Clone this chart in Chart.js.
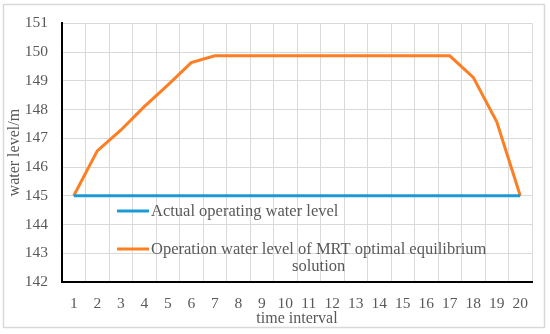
<!DOCTYPE html>
<html>
<head>
<meta charset="utf-8">
<script src="https://cdn.jsdelivr.net/npm/chart.js@4/dist/chart.umd.min.js"></script>
<style>
  html, body { margin: 0; padding: 0; background: #fff; }
  #wrap { width: 550px; height: 334px; }
</style>
</head>
<body>
<div id="wrap"><canvas id="lineChart" width="550" height="334"></canvas></div>
<script>
// time intervals 1..20
const intervals = ['1','2','3','4','5','6','7','8','9','10','11','12','13','14','15','16','17','18','19','20'];
const actualLevel = [145,145,145,145,145,145,145,145,145,145,145,145,145,145,145,145,145,145,145,145];
const mrtLevel = [145,146.56,147.28,148.1,148.85,149.63,149.87,149.87,149.87,149.87,149.87,149.87,149.87,149.87,149.87,149.87,149.87,149.12,147.57,145];
const seriesNames = ['Actual operating water level', 'Operation water level of MRT optimal equilibrium solution'];
const yTicks = { min: 142, max: 151, step: 1 };

const textGray = '#595959';
const serif = "'Liberation Serif', 'DejaVu Serif', serif";

// legend sits inside the plot, second label wraps
const insideLegend = {
    id: 'insideLegend',
    afterDraw(chart) {
        const ctx = chart.ctx;
        const rows = [
            { y: 211, lines: ['Actual operating water level'] },
            { y: 249, lines: ['Operation water level of MRT optimal equilibrium', 'solution'] },
        ];
        ctx.save();
        ctx.font = '16.5px ' + serif;
        ctx.fillStyle = textGray;
        ctx.textBaseline = 'middle';
        rows.forEach((row, i) => {
            const ds = chart.data.datasets[i];
            ctx.strokeStyle = ds.borderColor;
            ctx.lineWidth = 3;
            ctx.beginPath();
            ctx.moveTo(117, row.y);
            ctx.lineTo(149, row.y);
            ctx.stroke();
            const w = Math.max(...row.lines.map(l => ctx.measureText(l).width));
            row.lines.forEach((l, j) => {
                const lw = ctx.measureText(l).width;
                ctx.fillText(l, 151 + (w - lw) / 2, row.y + 1 + j * 17);
            });
        });
        ctx.restore();
    }
};

// outer frame + white background
const frame = {
    id: 'frame',
    beforeDraw(chart) {
        const ctx = chart.ctx;
        ctx.save();
        ctx.fillStyle = '#fff';
        ctx.fillRect(0, 0, chart.width, chart.height);
        ctx.strokeStyle = '#d9d9d9';
        ctx.lineWidth = 1.5;
        ctx.strokeRect(3.5, 4.5, 541, 323);
        ctx.restore();
    }
};

new Chart(document.getElementById('lineChart'), {
    type: 'line',
    data: {
        labels: intervals,
        datasets: [
            { label: seriesNames[0], data: actualLevel, borderColor: '#1c9ad6', borderWidth: 3, pointRadius: 0, fill: false, tension: 0 },
            { label: seriesNames[1], data: mrtLevel, borderColor: '#fd7e23', borderWidth: 3, pointRadius: 0, fill: false, tension: 0 },
        ],
    },
    options: {
        responsive: false,
        animation: false,
        layout: { padding: { left: 0, right: 18, top: 15, bottom: 0 } },
        plugins: {
            legend: { display: false },
            tooltip: { enabled: false },
        },
        scales: {
            x: {
                offset: true,
                grid: { color: '#d9d9d9', lineWidth: 1, offset: true, drawTicks: false },
                border: { color: '#000', width: 2 },
                ticks: { color: textGray, font: { family: serif, size: 15.5 }, padding: 13, maxRotation: 0, autoSkip: false },
                title: { display: true, text: 'time interval', color: textGray, font: { family: serif, size: 16 }, padding: { top: 0, bottom: 6 } },
                afterFit(s) { s.height = 52; },
            },
            y: {
                min: yTicks.min,
                max: yTicks.max,
                grid: { color: '#d9d9d9', lineWidth: 1, drawTicks: false },
                border: { color: '#000', width: 2 },
                ticks: { stepSize: yTicks.step, color: textGray, font: { family: serif, size: 15.5 }, padding: 14 },
                title: { display: true, text: 'water level/m', color: textGray, font: { family: serif, size: 16 }, padding: { top: 5, bottom: 0 } },
                afterFit(s) { s.width = 62; },
            },
        },
    },
    plugins: [frame, insideLegend],
});
</script>
</body>
</html>
